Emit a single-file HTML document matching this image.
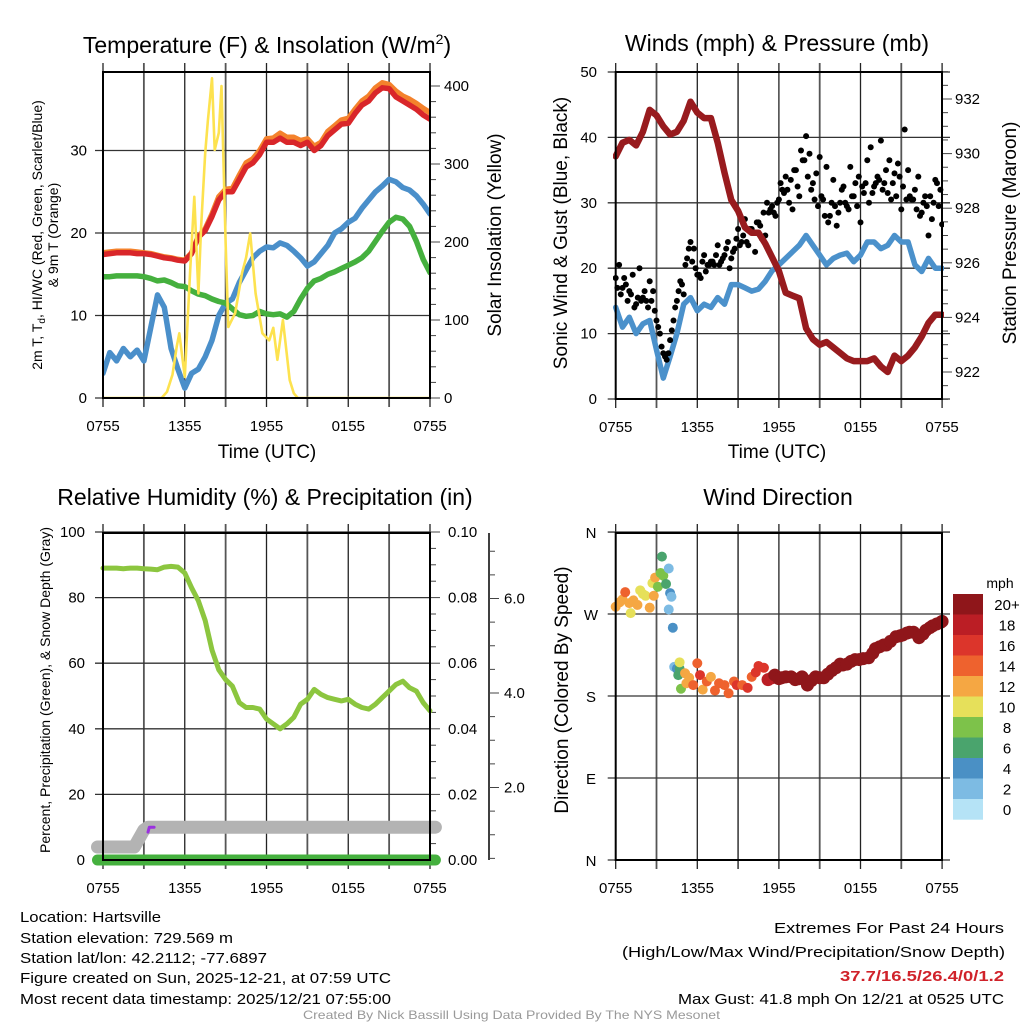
<!DOCTYPE html>
<html><head><meta charset="utf-8"><style>
html,body{margin:0;padding:0;background:#fff;}
svg{display:block;font-family:"Liberation Sans",Arial,sans-serif;}
</style></head><body>
<svg id="fig" width="1024" height="1024" viewBox="0 0 1024 1024" xmlns="http://www.w3.org/2000/svg">
<rect x="0" y="0" width="1024" height="1024" fill="#fff"/>
<g id="p1"></g>
<g id="p2"></g>
<g id="p3"></g>
<g id="p4"></g>
<g id="txt">
<text x="267" y="53" font-size="23" text-anchor="middle">Temperature (F) &amp; Insolation (W/m<tspan font-size="14" dy="-9">2</tspan><tspan dy="9">)</tspan></text>
<text x="777" y="51" font-size="23" text-anchor="middle">Winds (mph) &amp; Pressure (mb)</text>
<text x="265" y="505" font-size="23" text-anchor="middle">Relative Humidity (%) &amp; Precipitation (in)</text>
<text x="778" y="505" font-size="23" text-anchor="middle">Wind Direction</text>
<text x="267" y="458" font-size="19" text-anchor="middle">Time (UTC)</text>
<text x="777" y="458" font-size="19" text-anchor="middle">Time (UTC)</text>
<text transform="translate(42,235) rotate(-90)" font-size="14" text-anchor="middle">2m T, T<tspan font-size="10" dy="3">d</tspan><tspan dy="-3">, HI/WC (Red, Green, Scarlet/Blue)</tspan></text>
<text transform="translate(58,235) rotate(-90)" font-size="14" text-anchor="middle">&amp; 9m T (Orange)</text>
<text transform="translate(501,235) rotate(-90)" font-size="19" text-anchor="middle">Solar Insolation (Yellow)</text>
<text transform="translate(567,233) rotate(-90)" font-size="19" text-anchor="middle">Sonic Wind &amp; Gust (Blue, Black)</text>
<text transform="translate(1016,233) rotate(-90)" font-size="19" text-anchor="middle">Station Pressure (Maroon)</text>
<text transform="translate(50,690) rotate(-90)" font-size="14" text-anchor="middle">Percent, Precipitation (Green), &amp; Snow Depth (Gray)</text>
<text transform="translate(568,690) rotate(-90)" font-size="19" text-anchor="middle">Direction (Colored By Speed)</text>
<g font-size="15">
<text x="20" y="922" textLength="141" lengthAdjust="spacingAndGlyphs">Location: Hartsville</text>
<text x="20" y="943" textLength="213" lengthAdjust="spacingAndGlyphs">Station elevation: 729.569 m</text>
<text x="20" y="963" textLength="247" lengthAdjust="spacingAndGlyphs">Station lat/lon: 42.2112; -77.6897</text>
<text x="20" y="983" textLength="371" lengthAdjust="spacingAndGlyphs">Figure created on Sun, 2025-12-21, at 07:59 UTC</text>
<text x="20" y="1004" textLength="371" lengthAdjust="spacingAndGlyphs">Most recent data timestamp: 2025/12/21 07:55:00</text>
<text x="774" y="933" textLength="230" lengthAdjust="spacingAndGlyphs">Extremes For Past 24 Hours</text>
<text x="622" y="957" textLength="383" lengthAdjust="spacingAndGlyphs">(High/Low/Max Wind/Precipitation/Snow Depth)</text>
<text x="840" y="981" textLength="164" lengthAdjust="spacingAndGlyphs" fill="#d0222a" font-weight="bold">37.7/16.5/26.4/0/1.2</text>
<text x="678" y="1004" textLength="326" lengthAdjust="spacingAndGlyphs">Max Gust: 41.8 mph On 12/21 at 0525 UTC</text>
</g>
<text x="303" y="1019" font-size="12" fill="#999" textLength="417" lengthAdjust="spacingAndGlyphs">Created By Nick Bassill Using Data Provided By The NYS Mesonet</text>
</g>
</svg>
<script>
// ===== DATA =====
const timeLabels = ["0755","1355","1955","0155","0755"];
// Panel 1
const tempRed = [17.4,17.5,17.6,17.6,17.6,17.5,17.5,17.4,17.2,17.0,16.9,16.7,16.6,17.5,19.5,20.3,22,24,25,25,26.5,28,28.5,29.5,31,31,31.5,31,31,30.6,31,30,30.6,31.8,32.5,33.2,33.3,34.5,35.5,36,37,37.6,37.5,36.5,36,35.5,35,34.3,33.8];
const temp9mOrange = [17.6,17.7,17.8,17.8,17.8,17.7,17.6,17.5,17.3,17.1,17.0,16.8,16.7,17.6,19.6,20.5,22.3,24.4,25.3,25.4,27,28.5,29,30,31.4,31.5,32.1,31.6,31.6,31.2,31.4,30.5,31,32.3,33,33.7,33.9,35,36,36.6,37.6,38.2,38,37.2,36.6,36.2,35.7,35.1,34.6];
const dewGreen = [14.7,14.7,14.8,14.8,14.8,14.8,14.7,14.5,14.2,14.3,14,13.6,13.5,13,12.6,12.4,12,11.7,11.5,10.8,10.1,9.9,10,10.5,10.2,10.1,10.2,9.8,10.5,12,13.3,14.2,14.5,15,15.3,15.7,16.1,16.5,17,17.8,19,20.2,21.3,21.9,21.7,20.8,19,16.8,15.2];
const windChillBlue = [3,5.5,4.5,6,5,5.8,4.5,8.5,12.5,11,6,3.5,1.2,3,3.5,5,7,10,11.5,12,14,15.5,17,17.8,18.3,18.2,18.8,18.5,17.8,17,16,16.5,17.5,18.5,20,20.5,21.3,21.8,23,24,25,25.7,26.5,26.2,25.5,25.2,24.5,23.5,22.3];
const solarT = [0,4.3,4.7,5.1,5.4,5.6,6.0,6.4,6.7,7.0,7.2,7.5,7.7,8.0,8.2,8.5,8.7,9.0,9.2,9.7,10.2,10.5,10.8,11.2,11.7,12.2,12.5,12.8,13.2,13.5,13.7,14.0,14.3,24];
const solarV = [0,0,8,30,65,83,27,164,258,134,219,314,356,410,318,340,400,200,91,109,160,180,211,134,83,74,90,49,100,55,23,6,0,0];
// Panel 2
const windBlue = [14,11,12.5,10,11.5,12,7.5,3.2,6.5,10,14.5,15.5,13.5,14.5,14,15.5,14.5,17.5,17.5,17,16.5,16.8,18,19.6,20.5,21.5,22.5,23.5,25,23.5,22,20.5,21.5,22,22.3,21,22,24,24,23,23.5,25,24,24,20.5,19.5,21.5,20,20];
const pressure = [929.9,930.4,930.5,930.3,930.8,931.6,931.4,931.0,930.7,930.8,931.2,931.9,931.5,931.3,931.3,930.4,929.3,928.3,927.9,927.3,927.1,927.1,926.7,926.2,925.7,924.9,924.8,924.7,923.6,923.2,923.0,923.1,922.9,922.7,922.5,922.4,922.4,922.4,922.5,922.2,922.0,922.6,922.4,922.6,922.9,923.3,923.8,924.1,924.1];
const gustA = [18.5,20.5,17,17.5,16.5,19,14.5,20,15.5,15,18,16.5,12,10,7,6,9,12,15,18,16,21.5,24,23,19,18.5,22,20.5,21,20.5,23.5,21,22,24,21.5,23,26,24,27.5,23.5,26,22.5,27,24.5,25,28.5,29.5,28,30.5,32,34,30,29,35,31,36.5,40.2,37.5,33,34.5,37,30.5,35.5,28,33.5,26.5,30,32.5,29.5,35.5,31,29.5,27,31.5,36.5,38.5,32.5,34,39.5,33,31.5,30.5,34.5,36,29,41.2,35,30.5,32,34,28.5,31,25,27.5,33.5,29.5,26.7];
const gustB = [17,16,18.5,15,16,14,15.5,15,16.5,14,15,13.5,11,8,6.5,7,10.5,14,16.5,17.5,20.5,23,21,20,19,21,19.5,20.5,21,22,20.5,21.5,23,20,22.5,24.5,23.5,25,24,26,25.5,27,26.5,28.5,30,29,28.5,30,33,31.5,32,33.5,35,32.5,38,36.5,34,32,30.5,29.5,31,28,27,30,29.5,28.5,32,30,29,31,33,34,32.5,33,30,31.5,33,33.5,32,35,36.5,33,31,34,32.5,30.5,31,30.5,29,28,30,29.5,31,30,33,32];
// Panel 3
const rhGreen = [89,89,89,88.8,89,89,88.8,88.7,88.5,89.3,89.5,89.3,87.5,83,79,73,64,58,55,53,48,46.5,46.5,46,43,41.5,40,41.5,43.5,47.5,49,52,50.5,49.5,49,48.5,49,47.5,46.5,46,47.5,49.5,51.5,53.5,54.5,52.5,51.5,48,45.5];
const snowT = [-0.4,2.3,3.0,3.3,24.4];
const snowDepth = [0.74,0.74,1.1,1.16,1.16];
const precipT = [-0.4,24.4];
const precipV = [0,0];
const purpleT = [3.3,3.4,3.75];
const purpleV = [8.5,10,10];
// Panel 4
const dirT = [0,0.3,0.5,0.7,1.0,1.1,1.3,1.6,1.8,2.0,2.2,2.5,2.7,2.8,2.9,3.1,3.3,3.4,3.5,3.7,3.9,4.0,4.1,3.9,4.2,4.3,4.5,4.6,4.7,4.8,4.7,5.1,5.2,5.4,5.7,6.0,6.2,6.4,6.7,7.0,7.3,7.6,8.0,8.3,8.7,8.9,9.3,9.7,10,10.3,10.5,10.9,11.2,11.5,11.7,12.0,12.2,12.5,12.9,13.2,13.5,13.7,14.1,14.4,14.7,15.0,15.3,15.6,15.9,16.2,16.5,16.7,17.0,17.3,17.6,17.9,18.2,18.6,18.9,19.1,19.4,19.7,19.9,20.2,20.6,20.9,21.1,21.4,21.6,21.9,22.3,22.6,22.8,23.1,23.3,23.6,23.9,24];
const dirDeg = [278,283,286,294,282,271,285,280,296,292,290,277,304,290,310,300,315,333,312,303,320,293,289,275,255,212,210,203,210,188,217,205,194,200,192,216,203,187,196,201,186,194,192,183,196,192,192,189,201,206,213,211,198,200,203,199,200,201,201,198,199,201,192,197,201,200,200,204,208,211,215,214,215,218,220,220,221,222,227,232,234,236,236,240,245,246,247,249,250,250,244,248,252,255,257,259,261,262];
const dirSpd = [13,12,13,14.5,12,10.5,12,12.5,10.5,11,10,12,11,12.5,12.5,9,8.5,6.5,9,7,3,4.5,2.5,2.5,4.5,3,5,6,7,8.5,10.5,12,13,13,14,15.5,16,12,14,13,14,15,14,15,14,17,15.5,16,15,16,17,16,18,19,20,20,21,21,21,22,22,22,22,22,22,22,21,21,21,21,21,21,22,22,22,23,22,22,22,22,22,23,23,23,24,24,24,24,25,25,21,21,20,22,22,21,20,20];
const cbLabels = ["20+","18","16","14","12","10","8","6","4","2","0"];
const cbColors = ["#8f161a","#bb1e25","#dc352b","#ee622e","#f5a743","#e6e05a","#7dc24a","#4aa46d","#4a90c5","#7dbbe3","#b5e3f6"];

// ===== HELPERS =====
const NS = "http://www.w3.org/2000/svg";
function mk(parent, tag, attrs){ const e=document.createElementNS(NS,tag); for(const k in attrs) e.setAttribute(k,attrs[k]); parent.appendChild(e); return e; }
function txt(parent, x, y, s, size, anchor){ const e=mk(parent,"text",{x:x,y:y,"font-size":size,"text-anchor":anchor}); e.textContent=s; return e; }
function halfT(i){ return i*0.5; }
function polyPts(ts, vs, xf, yf){ return ts.map((t,i)=>xf(t).toFixed(1)+","+yf(vs[i]).toFixed(1)).join(" "); }
function idxT(arr, step, off){ return arr.map((_,i)=>off+i*step); }

function frame(g, x0, x1, y0, y1, xf, hGrid, hExtRight, name){
  for(let h=0; h<=24; h+=3){
    const x=xf(h);
    const l=mk(g,"line",{x1:x,x2:x,y1:y0-9,y2:y1+9,stroke:(h%6===0)?"#222":"#555","stroke-width":(h%6===0)?1.3:1.8});
    
    
  }
  hGrid.forEach(y=>{
    const l=mk(g,"line",{x1:x0-8,x2:x1+hExtRight,y1:y,y2:y,stroke:"#333","stroke-width":1.3});
    
    
  });
  timeLabels.forEach((s,i)=>{
    const t=txt(g, xf(i*6), y1+33, s, 15, "middle");
    
    
  });
}
function border(g,x0,x1,y0,y1,name){
  const r=mk(g,"rect",{x:x0,y:y0,width:x1-x0,height:y1-y0,fill:"none",stroke:"#000","stroke-width":2});
  
  
}
function line(g, pts, color, w, name){
  const p=mk(g,"polyline",{points:pts,fill:"none",stroke:color,"stroke-width":w,"stroke-linejoin":"round","stroke-linecap":"round"});
  
  
  return p;
}
function rightAxis(g, x, yTop, yBot, majors, minorStep, fy, lo, hi, fmt, labelX){
  const a=mk(g,"line",{x1:x,x2:x,y1:yTop,y2:yBot,stroke:"#000","stroke-width":1.5});
  
  
  for(let v=lo; v<=hi+1e-9; v+=minorStep){
    const y=fy(v); if(y<yTop-1||y>yBot+1) continue;
    const isMaj = majors.some(m=>Math.abs(m-v)<1e-6);
    const tk=mk(g,"line",{x1:x,x2:x+(isMaj?10:6),y1:y,y2:y,stroke:"#444","stroke-width":1});
    
    
  }
  majors.forEach(m=>{
    const t=txt(g, labelX, fy(m)+5, fmt(m), 15, "start");
    
    
  });
}

// ===== PANEL 1 =====
(function(){
  const g=document.getElementById("p1");
  const X=t=>103+t*13.625, Y=v=>398-v*8.25, YS=w=>398-w*0.78;
  const cl=mk(g,"clipPath",{id:"c1"}); mk(cl,"rect",{x:103,y:72,width:327,height:326});
  frame(g,103,430,72,398,X,[0,10,20,30].map(Y),0,"temp");
  [0,10,20,30].forEach(v=>{ const t=txt(g,87,Y(v)+5,String(v),15,"end");   });
  rightAxis(g,430,72,398,[0,100,200,300,400],20,YS,0,400,v=>String(v),444);
  const d=mk(g,"g",{"clip-path":"url(#c1)"});
  const tt=tempRed.map((_,i)=>halfT(i));
  line(d, polyPts(tt,windChillBlue,X,Y), "#4a8fca", 5.5, "wind-chill-line");
  line(d, polyPts(tt,dewGreen,X,Y), "#45b03e", 5.5, "dewpoint-line");
  line(d, polyPts(tt,temp9mOrange,X,Y), "#f4822c", 5.5, "temp-9m-line");
  line(d, polyPts(tt,tempRed,X,Y), "#d9262a", 5.5, "temp-2m-line");
  line(d, polyPts(solarT,solarV,X,YS), "#fde24f", 2.6, "solar-insolation-line");
  border(g,103,430,72,398,"temp");
})();

// ===== PANEL 2 =====
(function(){
  const g=document.getElementById("p2");
  const X=t=>615.7+t*13.6, Y=v=>399-v*6.54, YP=p=>372-(p-922)*27.3;
  const cl=mk(g,"clipPath",{id:"c2"}); mk(cl,"rect",{x:613,y:72,width:331,height:328});
  frame(g,615.7,942,72,399,X,[0,10,20,30,40,50].map(Y),8,"winds");
  [0,10,20,30,40,50].forEach(v=>{ const t=txt(g,597,Y(v)+5,String(v),15,"end");   });
  rightAxis(g,942,72,399,[922,924,926,928,930,932],0.5,YP,921,933,v=>String(v),955);
  const d=mk(g,"g",{"clip-path":"url(#c2)"});
  const tt=windBlue.map((_,i)=>halfT(i));
  line(d, polyPts(tt,windBlue,X,Y), "#4b91cb", 5.5, "sonic-wind-line");
  idxT(gustA,0.25,0).forEach((t,i)=>{ const c=mk(d,"circle",{cx:X(t),cy:Y(gustA[i]),r:3,fill:"#000"});   });
  idxT(gustB,0.25,0.125).forEach((t,i)=>{ const c=mk(d,"circle",{cx:X(t),cy:Y(gustB[i]),r:3,fill:"#000"});   });
  line(d, polyPts(tt,pressure,X,YP), "#981b1e", 6.5, "pressure-line");
  border(g,615.7,942,72,399,"winds");
})();

// ===== PANEL 3 =====
(function(){
  const g=document.getElementById("p3");
  const X=t=>103+t*13.625, Y=v=>860-v*3.28, YPr=p=>860-p*3280, YSn=s=>882-s*47.25;
  frame(g,103,430,533,860,X,[0,20,40,60,80,100].map(Y),0,"humidity");
  [0,20,40,60,80,100].forEach(v=>{ const t=txt(g,85,Y(v)+5,String(v),15,"end");   });
  rightAxis(g,430,533,860,[0,0.02,0.04,0.06,0.08,0.10],0.005,YPr,0,0.1,v=>v.toFixed(2),448);
  const a=mk(g,"line",{x1:489,x2:489,y1:533,y2:860,stroke:"#000","stroke-width":1.5});
  
  
  for(let s=0.5;s<=7;s+=0.5){ const y=YSn(s); if(y<533) continue; const maj=Math.abs(s%2)<1e-6; const tk=mk(g,"line",{x1:489,x2:maj?499:495,y1:y,y2:y,stroke:"#444","stroke-width":1});   }
  [2,4,6].forEach(s=>{ const t=txt(g,504,YSn(s)+5,s.toFixed(1),15,"start");   });
  const tt=rhGreen.map((_,i)=>halfT(i));
  line(g, polyPts(snowT,snowDepth,X,YSn), "#b3b3b3", 13, "snow-depth-line");
  line(g, polyPts(precipT,precipV,X,YPr), "#45b03e", 11, "precipitation-line");
  line(g, polyPts(purpleT,purpleV,X,Y), "#9b30e0", 3, "precip-rate-line");
  line(g, polyPts(tt,rhGreen,X,Y), "#8cc63f", 5, "relative-humidity-line");
  border(g,103,430,533,860,"humidity");
})();

// ===== PANEL 4 =====
(function(){
  const g=document.getElementById("p4");
  const X=t=>615.7+t*13.6, Y=d=>860-d*0.911;
  frame(g,615.7,942,533,860,X,[0,90,180,270,360].map(Y),8,"direction");
  ["N","E","S","W","N"].forEach((s,i)=>{ const t=txt(g,591,Y(i*90)+6,s,15,"middle");   });
  const col=s=>{ let b=Math.floor(s/2); if(b>10) b=10; return cbColors[10-b]; };
  dirT.forEach((t,i)=>{
    const c=mk(g,"circle",{cx:X(t),cy:Y(dirDeg[i]),r:(dirSpd[i]>=18?6.5:5),fill:col(dirSpd[i])});
    
    
  });
  const mph=txt(g,1000,588,"mph",14,"middle");
  
  
  cbColors.forEach((c,i)=>{
    const r=mk(g,"rect",{x:953,y:594+i*20.5,width:30,height:20.7,fill:c});
    
    
    const t=txt(g,1007,594+i*20.5+16,cbLabels[i],15,"middle");
    
    
  });
  border(g,615.7,942,533,860,"direction");
})();
</script>
</body></html>
